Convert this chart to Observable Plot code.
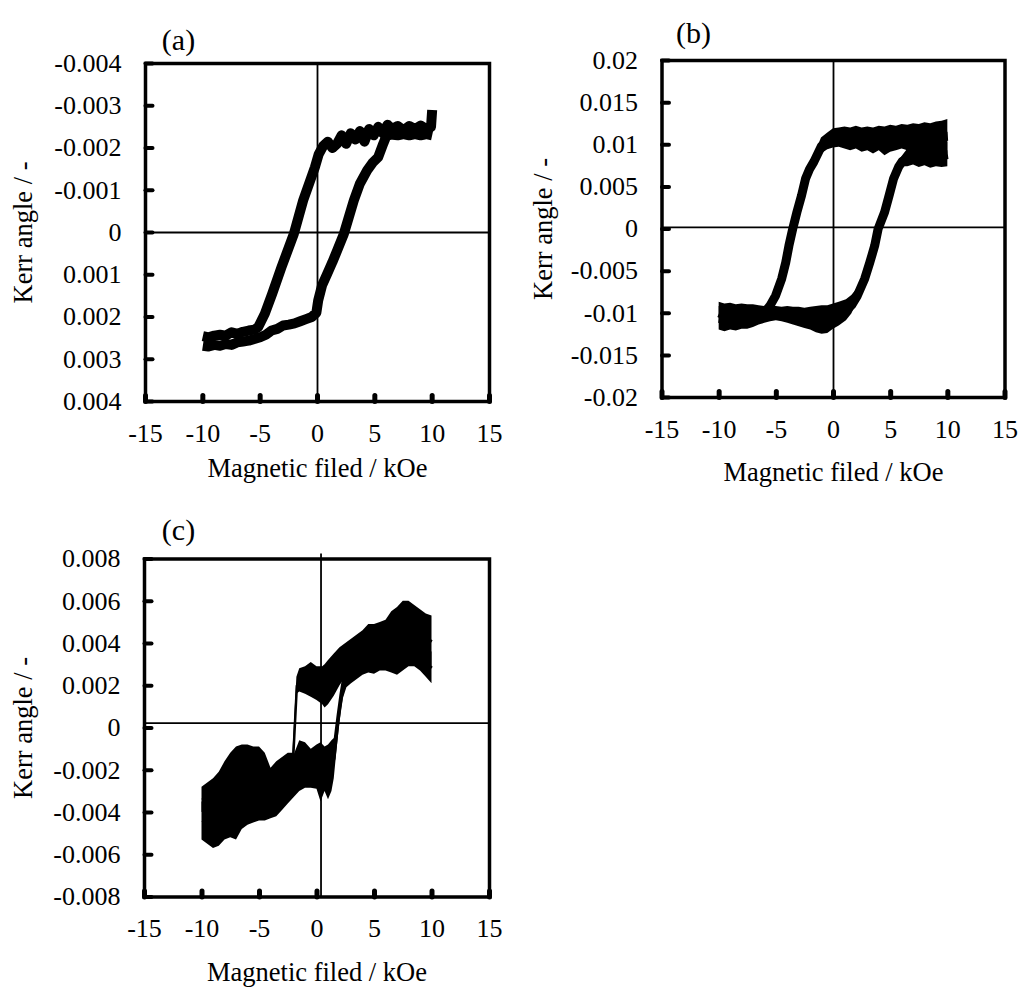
<!DOCTYPE html>
<html><head><meta charset="utf-8">
<script src="https://cdn.jsdelivr.net/npm/d3@7"></script>
<script src="https://cdn.jsdelivr.net/npm/@observablehq/plot@0.6"></script>
<style>
body{margin:0;background:#fff;}
#root{position:relative;width:1019px;height:988px;background:#fff;}
#root > svg{position:absolute;}
</style></head><body><div id="root"></div>
<script>
// Kerr-angle values in the branch arrays are given in units of 0.001
const UNIT = 0.001;
const xTitle = "Magnetic filed / kOe";
const yTitle = "Kerr angle / -";
const xTicks = [-15, -10, -5, 0, 5, 10, 15];

// ---- (a) ----
const aYTicks = [-0.004, -0.003, -0.002, -0.001, 0, 0.001, 0.002, 0.003, 0.004];
const aLeftX = [-10, -9.5, -9, -8.5, -8, -7.5, -7, -6.5, -6, -5.5, -5.17, -4.59, -3.95, -3.14, -2.06, -1.25, -0.23, 0.1, 0.5, 0.9, 1.3, 1.7, 2.1, 2.5, 2.9, 3.3, 3.7, 4.1, 4.5, 4.9, 5.3, 5.7, 6.1, 6.5, 7, 7.5, 8, 8.5, 9, 9.5, 9.9, 10];
const aLeftY = [2.45, 2.48, 2.44, 2.42, 2.44, 2.36, 2.4, 2.35, 2.32, 2.3, 2.24, 1.92, 1.45, 0.82, 0.03, -0.76, -1.54, -1.85, -2.05, -2.15, -2.0, -2.1, -2.3, -2.1, -2.35, -2.2, -2.4, -2.15, -2.45, -2.3, -2.5, -2.35, -2.55, -2.45, -2.52, -2.42, -2.52, -2.45, -2.53, -2.45, -2.5, -2.9];
const aRightX = [-10, -9.5, -9, -8.5, -8, -7.5, -7, -6.5, -6, -5.5, -5, -4.5, -4, -3.5, -3, -2.5, -2, -1.5, -1, -0.5, -0.1, 0.06, 0.4, 0.84, 1.3, 1.71, 2.3, 2.73, 3.17, 3.69, 4.33, 4.8, 5.29, 5.73, 6.0, 6.4, 7, 7.5, 8, 8.5, 9, 9.5, 10];
const aRightY = [2.68, 2.7, 2.66, 2.68, 2.64, 2.66, 2.6, 2.58, 2.56, 2.52, 2.48, 2.42, 2.32, 2.28, 2.2, 2.18, 2.15, 2.1, 2.05, 2.0, 1.9, 1.61, 1.25, 0.98, 0.7, 0.43, 0.03, -0.36, -0.76, -1.15, -1.47, -1.65, -1.78, -2.1, -2.28, -2.32, -2.3, -2.33, -2.3, -2.33, -2.3, -2.33, -2.3];

// ---- (b) ----
const bYTicks = [0.02, 0.015, 0.01, 0.005, 0, -0.005, -0.01, -0.015, -0.02];
const bLeftX = [-10, -9.5, -9, -8.5, -8, -7.5, -7, -6.5, -6, -5.55, -5.06, -4.53, -4.18, -3.9, -3.57, -3.2, -2.79, -2.44, -2.1, -1.71, -1.05, -0.5, 0, 0.5, 1, 1.5, 2, 2.5, 3, 3.5, 4, 4.5, 5, 5.5, 6, 6.5, 7, 7.5, 8, 8.5, 9, 9.5, 10];
const bLeftLo = [-11.2, -11.6, -11.8, -11.9, -11.8, -11.6, -11.3, -11.0, -10.5, -9.5, -8.3, -6.3, -4.4, -2.4, -0.4, 1.6, 3.6, 5.6, 6.6, 7.4, 8.9, 9.4, 9.6, 9.7, 9.5, 9.3, 9.5, 9.1, 9.3, 8.9, 9.3, 8.7, 9.1, 9.3, 9.5, 9.3, 9.4, 9.2, 9.4, 9.1, 9.3, 9.1, 9.0];
const bLeftHi = [-8.7, -8.9, -8.8, -9.0, -8.9, -9.0, -9.0, -9.1, -9.2, -8.7, -7.5, -5.5, -3.6, -1.6, 0.4, 2.4, 4.4, 6.4, 7.6, 8.6, 10.8, 11.4, 11.9, 12.0, 12.1, 12.0, 12.2, 12.0, 12.1, 12.0, 12.2, 12.1, 12.3, 12.2, 12.4, 12.3, 12.5, 12.4, 12.6, 12.5, 12.7, 12.8, 13.0];
const bRightX = [-10, -9.5, -9, -8.5, -8, -7.5, -7, -6.5, -6, -5.5, -5, -4.5, -4, -3.5, -3, -2.5, -2, -1.5, -1, -0.5, 0, 0.5, 1.13, 1.6, 2.09, 2.73, 3.17, 3.6, 3.9, 4.47, 4.87, 5.26, 5.7, 6, 6.5, 7, 7.5, 8, 8.5, 9, 9.5, 10];
const bRightLo = [-12.0, -12.2, -12.0, -12.1, -11.9, -11.9, -11.7, -11.4, -11.2, -11.0, -10.9, -11.0, -11.2, -11.4, -11.6, -11.8, -12.0, -12.3, -12.5, -12.4, -11.9, -11.5, -10.9, -10.1, -8.7, -6.7, -4.8, -2.8, -0.8, 1.2, 3.2, 5.2, 6.8, 7.4, 7.4, 7.6, 7.3, 7.5, 7.2, 7.4, 7.3, 7.4];
const bRightHi = [-9.2, -9.3, -9.4, -9.5, -9.4, -9.5, -9.5, -9.4, -9.3, -9.2, -9.2, -9.3, -9.2, -9.3, -9.3, -9.4, -9.3, -9.2, -9.1, -9.1, -8.9, -8.7, -8.4, -7.9, -7.1, -5.1, -3.2, -1.2, 0.8, 2.8, 4.8, 6.8, 8.0, 8.6, 9.5, 9.8, 10.0, 10.0, 10.2, 10.1, 10.2, 10.3];

// ---- (c) ----
const cYTicks = [0.008, 0.006, 0.004, 0.002, 0, -0.002, -0.004, -0.006, -0.008];
const cUpperX = [-10, -9.5, -9, -8.5, -8, -7.5, -7, -6.5, -6, -5.5, -5, -4.5, -4, -3.5, -3, -2.5, -2.1, -1.75, -1.5, -1, -0.5, 0, 0.5, 0.7, 1, 1.5, 2, 2.5, 3, 3.5, 4, 4.5, 5, 5.5, 6, 6.5, 7, 7.5, 8, 8.5, 9, 9.5, 10];
const cUpperHi = [-2.8, -2.6, -2.4, -2.1, -1.6, -1.2, -0.9, -0.8, -0.8, -0.9, -0.9, -1.2, -1.9, -1.6, -1.4, -1.2, -1.2, 2.4, 2.8, 2.9, 3.1, 2.9, 2.9, 3.0, 3.2, 3.5, 3.8, 4.0, 4.2, 4.4, 4.6, 4.9, 4.9, 5.0, 5.1, 5.5, 5.7, 6.0, 6.0, 5.8, 5.6, 5.4, 5.3];
const cUpperLo = [-4.0, -3.9, -3.9, -3.8, -3.8, -3.7, -3.6, -3.4, -3.3, -3.2, -3.1, -3.0, -2.9, -2.8, -2.6, -2.4, -2.3, 1.6, 1.7, 1.6, 1.45, 1.3, 1.1, 0.95, 1.1, 1.5, 2.0, 2.4, 2.6, 2.8, 2.9, 3.0, 3.0, 3.1, 3.1, 3.1, 3.2, 3.3, 3.4, 3.4, 3.3, 3.1, 2.9];
const cLowerX = [-10, -9.5, -9, -8.5, -8, -7.5, -7, -6.5, -6, -5.5, -5, -4.5, -4, -3.5, -3, -2.5, -2, -1.5, -1, -0.5, 0, 0.35, 0.7, 1, 1.3, 1.5, 1.75, 2.0, 2.3, 2.6, 3, 3.5, 4, 4.5, 5, 5.5, 6, 6.5, 7, 7.5, 8, 8.5, 9, 9.5, 10];
const cLowerHi = [-3.5, -3.5, -3.4, -3.4, -3.3, -3.2, -3.1, -3.0, -2.9, -2.8, -2.6, -2.5, -2.4, -2.2, -2.0, -1.7, -1.3, -0.6, -0.7, -1.0, -0.8, -0.7, -0.9, -0.8, -0.6, -0.5, 0.6, 1.6, 2.6, 3.0, 3.2, 3.3, 3.4, 3.5, 3.6, 3.7, 3.7, 3.8, 3.9, 4.0, 4.0, 3.9, 3.8, 3.7, 3.6];
const cLowerLo = [-5.3, -5.5, -5.7, -5.6, -5.3, -5.2, -5.3, -4.8, -4.6, -4.5, -4.4, -4.4, -4.3, -4.2, -3.9, -3.6, -3.3, -3.0, -2.85, -2.85, -2.9, -3.5, -3.0, -3.4, -3.0, -2.4, -1.0, 0.3, 1.4, 1.9, 2.1, 2.3, 2.5, 2.6, 2.55, 2.7, 2.7, 2.6, 2.5, 2.7, 2.9, 2.9, 2.7, 2.4, 2.1];

function rowsY(xs, ys) {
  return xs.map((x, i) => ({x, lo: ys[i] * UNIT, hi: ys[i] * UNIT, mid: ys[i] * UNIT}));
}
function rowsLoHi(xs, lo, hi) {
  return xs.map((x, i) => ({x, lo: lo[i] * UNIT, hi: hi[i] * UNIT, mid: (lo[i] + hi[i]) / 2 * UNIT}));
}

const tickShape = {draw(ctx, l) { ctx.moveTo(0, 0); ctx.lineTo(0, -l); }};
const fmt = d => String(d);

function makePanel(cfg) {
  const marks = [
    Plot.ruleY([cfg.zeroY], {stroke: "black", strokeWidth: 1.8}),
    Plot.ruleX([cfg.zeroX], {stroke: "black", strokeWidth: 1.8, insetTop: cfg.ruleInsetTop || 0})
  ];
  for (const b of cfg.branches) {
    marks.push(Plot.areaY(b, {x: "x", y1: "lo", y2: "hi", fill: "black"}));
    marks.push(Plot.line(b, {x: "x", y: "mid", stroke: "black", strokeWidth: cfg.lineWidth, strokeLinejoin: "round", strokeLinecap: "butt"}));
  }
  marks.push(
    Plot.frame({stroke: "black", strokeWidth: 3.5}),
    Plot.vector(cfg.yTicks, {y: d => d, frameAnchor: "left", length: 7, rotate: 90, anchor: "start", shape: tickShape, stroke: "black", strokeWidth: 4}),
    Plot.vector(xTicks, {x: d => d, frameAnchor: "bottom", length: 6, rotate: 0, anchor: "start", shape: tickShape, stroke: "black", strokeWidth: 5}),
    Plot.axisY(cfg.yTicks, {tickSize: 0, tickPadding: 24, tickFormat: fmt, label: null}),
    Plot.axisX(xTicks, {tickSize: 0, tickPadding: 22, tickFormat: fmt, label: null}),
    Plot.text([xTitle], {text: d => d, frameAnchor: "bottom", dy: cfg.xTitleDy, fontSize: 26.5, textAnchor: "middle", lineAnchor: "middle"}),
    Plot.text([yTitle], {text: d => d, frameAnchor: "left", dx: cfg.yTitleDx, rotate: -90, fontSize: 26.5, textAnchor: "middle", lineAnchor: "middle"}),
    Plot.text([cfg.label], {text: d => d, frameAnchor: "top-left", dx: cfg.labelDx, dy: cfg.labelDy, fontSize: 30, textAnchor: "middle", lineAnchor: "middle"})
  );
  const svg = Plot.plot({
    width: cfg.width, height: cfg.height,
    marginLeft: cfg.ml, marginRight: cfg.mr, marginTop: cfg.mt, marginBottom: cfg.mb,
    x: {domain: [-15, 15], label: null},
    y: {domain: cfg.yDomain, reverse: !!cfg.yReverse, label: null},
    style: {fontFamily: "'Liberation Serif', 'Times New Roman', serif", fontSize: "26px", color: "black", background: "transparent", overflow: "visible"},
    marks
  });
  svg.style.left = cfg.left + "px";
  svg.style.top = cfg.top + "px";
  document.getElementById("root").appendChild(svg);
}

makePanel({
  left: 0, top: 0, width: 510, height: 490, ml: 145, mr: 21, mt: 63, mb: 89,
  yDomain: [-0.004, 0.004], yReverse: true, yTicks: aYTicks,
  branches: [rowsY(aLeftX, aLeftY), rowsY(aRightX, aRightY)], lineWidth: 10,
  zeroX: 0, zeroY: 0,
  label: "(a)", labelDx: 33, labelDy: -23, xTitleDy: 67, yTitleDx: -122
});
makePanel({
  left: 510, top: 0, width: 509, height: 490, ml: 151.5, mr: 14.5, mt: 60, mb: 93,
  yDomain: [-0.02, 0.02], yTicks: bYTicks,
  branches: [rowsLoHi(bLeftX, bLeftLo, bLeftHi), rowsLoHi(bRightX, bRightLo, bRightHi)], lineWidth: 9,
  zeroX: 0, zeroY: 0.0002,
  label: "(b)", labelDx: 31.5, labelDy: -27, xTitleDy: 75, yTitleDx: -118.5
});
makePanel({
  left: 0, top: 500, width: 510, height: 488, ml: 144, mr: 21, mt: 58.5, mb: 91.5,
  yDomain: [-0.008, 0.008], yTicks: cYTicks,
  branches: [rowsLoHi(cUpperX, cUpperLo, cUpperHi), rowsLoHi(cLowerX, cLowerLo, cLowerHi)], lineWidth: 2.5,
  zeroX: 0.35, zeroY: 0.00023, ruleInsetTop: -5,
  label: "(c)", labelDx: 34, labelDy: -28.5, xTitleDy: 75.5, yTitleDx: -121
});
</script></body></html>
